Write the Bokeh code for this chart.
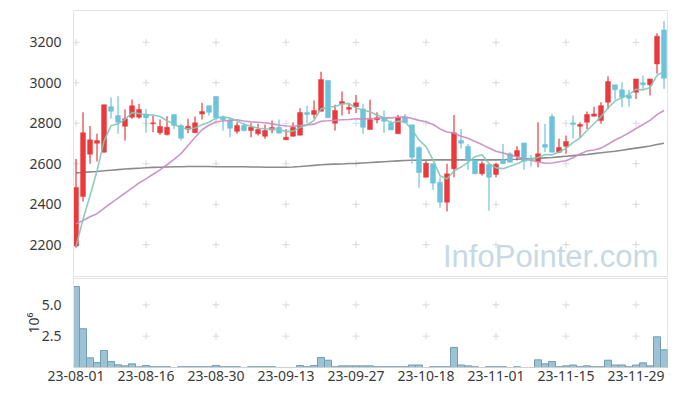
import pandas as pd
from bokeh.plotting import figure
from bokeh.layouts import column
from bokeh.models import ColumnDataSource, Range1d, FixedTicker, Label, NumeralTickFormatter
from bokeh.embed import file_html
from bokeh.resources import INLINE

# ---------------- data ----------------
tick_idx = [0, 10, 20, 30, 40, 50, 60, 70, 80]
tick_labels = ["23-08-01", "23-08-16", "23-08-30", "23-09-13", "23-09-27",
               "23-10-18", "23-11-01", "23-11-15", "23-11-29"]

opens = [2193, 2438, 2647, 2701, 2657, 2882, 2838, 2785, 2830, 2830,
         2846, 2797, 2753, 2744, 2843, 2789, 2770, 2753, 2846, 2887,
         2932, 2830, 2817, 2760, 2789, 2764, 2748, 2736, 2767, 2780,
         2718, 2736, 2741, 2853, 2843, 2859, 3011, 2800, 2896, 2869,
         2882, 2871, 2769, 2817, 2827, 2800, 2748, 2830, 2792, 2680,
         2533, 2600, 2509, 2410, 2575, 2715, 2685, 2619, 2550, 2596,
         2547, 2619, 2649, 2636, 2703, 2627, 2611, 2695, 2833, 2657,
         2686, 2802, 2785, 2805, 2835, 2813, 2904, 2990, 2965, 2937,
         2953, 3000, 2990, 3093, 3261]
highs = [2624, 2854, 2787, 2748, 2893, 2928, 2933, 2868, 2917, 2896,
         2871, 2838, 2818, 2835, 2843, 2797, 2822, 2833, 2901, 2887,
         2932, 2838, 2827, 2805, 2802, 2800, 2797, 2794, 2813, 2818,
         2772, 2805, 2874, 2886, 2912, 3055, 3011, 2892, 2957, 2896,
         2940, 2896, 2916, 2854, 2863, 2813, 2841, 2846, 2792, 2686,
         2612, 2600, 2533, 2600, 2841, 2772, 2698, 2619, 2611, 2600,
         2604, 2698, 2657, 2686, 2703, 2644, 2805, 2797, 2846, 2723,
         2739, 2838, 2805, 2858, 2882, 2904, 3032, 2990, 3002, 2965,
         3019, 3036, 3019, 3244, 3304]
lows = [2186, 2413, 2600, 2611, 2655, 2822, 2748, 2715, 2822, 2822,
        2753, 2756, 2743, 2739, 2772, 2715, 2751, 2753, 2818, 2838,
        2817, 2764, 2731, 2748, 2759, 2731, 2739, 2723, 2751, 2751,
        2718, 2734, 2741, 2800, 2822, 2859, 2827, 2764, 2838, 2846,
        2851, 2748, 2769, 2800, 2753, 2767, 2748, 2802, 2600, 2481,
        2533, 2471, 2382, 2364, 2533, 2674, 2570, 2550, 2542, 2369,
        2533, 2600, 2607, 2616, 2570, 2586, 2583, 2657, 2657, 2652,
        2649, 2726, 2731, 2772, 2835, 2797, 2871, 2916, 2879, 2882,
        2920, 2965, 2937, 3044, 2970]
closes = [2483, 2753, 2718, 2715, 2891, 2859, 2805, 2822, 2886, 2868,
          2827, 2802, 2784, 2780, 2789, 2726, 2785, 2802, 2858, 2854,
          2827, 2817, 2775, 2789, 2764, 2780, 2769, 2764, 2779, 2751,
          2731, 2780, 2853, 2843, 2863, 3016, 2827, 2863, 2907, 2878,
          2901, 2780, 2818, 2827, 2810, 2767, 2830, 2802, 2632, 2557,
          2602, 2504, 2410, 2550, 2753, 2701, 2619, 2550, 2600, 2533,
          2596, 2600, 2607, 2665, 2612, 2621, 2649, 2681, 2657, 2680,
          2710, 2794, 2794, 2843, 2846, 2887, 3006, 2965, 2928, 2923,
          3019, 2990, 3019, 3230, 3022]
volume_m = [6.46, 3.09, 0.77, 0.40, 1.36, 0.48, 0.21, 0.13, 0.29, 0.05,
            0.16, 0.06, 0.06, 0.06, 0.0, 0.06, 0.06, 0.06, 0.06, 0.06,
            0.16, 0.06, 0.06, 0.06, 0.0, 0.06, 0.06, 0.06, 0.06, 0.0,
            0.0, 0.0, 0.16, 0.06, 0.16, 0.80, 0.58, 0.06, 0.13, 0.13,
            0.13, 0.13, 0.13, 0.06, 0.06, 0.06, 0.06, 0.06, 0.20, 0.20,
            0.0, 0.06, 0.06, 0.06, 1.60, 0.20, 0.13, 0.06, 0.0, 0.06,
            0.06, 0.06, 0.0, 0.06, 0.0, 0.0, 0.61, 0.29, 0.48, 0.06,
            0.13, 0.20, 0.06, 0.13, 0.06, 0.06, 0.58, 0.20, 0.20, 0.06,
            0.20, 0.37, 0.13, 2.45, 1.41]
# moving-average values before a full window exists
ma5_head = [2191, 2326, 2442, 2565]
ma20_head = [2303, 2320, 2338, 2353, 2380, 2405, 2430, 2455, 2480, 2505,
             2525, 2548, 2570, 2595, 2622, 2650, 2690, 2730, 2768]
ma_long = [2555, 2557, 2560, 2562, 2565, 2568, 2571, 2574, 2576, 2578,
           2580, 2582, 2583, 2584, 2585, 2585, 2586, 2586, 2586, 2586,
           2585, 2585, 2585, 2585, 2585, 2584, 2584, 2583, 2583, 2583,
           2583, 2584, 2586, 2589, 2592, 2595, 2597, 2598, 2599, 2601,
           2602, 2604, 2606, 2608, 2610, 2612, 2614, 2616, 2617, 2618,
           2618, 2619, 2619, 2619, 2619, 2619, 2619, 2619, 2619, 2619,
           2619, 2620, 2621, 2622, 2624, 2625, 2627, 2629, 2631, 2634,
           2637, 2640, 2643, 2646, 2650, 2654, 2658, 2662, 2667, 2672,
           2677, 2682, 2688, 2695, 2701]
price_ticks = [2200, 2400, 2600, 2800, 3000, 3200]
vol_ticks = [2.5, 5.0]

# ---------------- derived ----------------
n = len(closes)
idx = list(range(n))
cl = pd.Series(closes, dtype=float)
ma5 = ma5_head + list(cl.rolling(5).mean().iloc[4:])
ma20 = ma20_head + list(cl.rolling(20).mean().iloc[19:])

RED = "#ea3a3c"
BLUE = "#6cc3da"
colors = [RED if c >= o else BLUE for o, c in zip(opens, closes)]
src = ColumnDataSource(dict(
    x=idx, o=opens, h=highs, l=lows, c=closes,
    top=[max(o, c) for o, c in zip(opens, closes)],
    bot=[min(o, c) for o, c in zip(opens, closes)],
    color=colors, vol=volume_m,
))

FONT = "Noto Sans"
LBL_COLOR = "#3a3a3a"
GRID = "#d9d9d9"
FRAME = "#e3e3e3"

xr = Range1d(-0.36, 84.5)

# ---------------- price chart ----------------
p = figure(width=672, height=277, x_range=xr, y_range=Range1d(2038, 3357),
           output_backend="svg", toolbar_location=None,
           min_border_left=73, min_border_right=5, min_border_top=10, min_border_bottom=0)
p.xaxis.visible = False
p.grid.visible = False
p.outline_line_color = FRAME
p.background_fill_color = "white"
p.yaxis.ticker = FixedTicker(ticks=price_ticks)
p.yaxis.major_tick_line_color = None
p.yaxis.minor_tick_line_color = None
p.yaxis.axis_line_color = FRAME
p.yaxis.major_label_text_font = FONT
p.yaxis.major_label_text_font_size = "14px"
p.yaxis.major_label_text_color = LBL_COLOR
p.yaxis.major_label_standoff = 6

gx = [x for x in tick_idx for _ in price_ticks]
gy = [y for _ in tick_idx for y in price_ticks]
p.scatter(gx, gy, marker="cross", size=7, line_color=GRID, line_width=1)

wm = Label(x=83.2, y=2142, text="InfoPointer.com", text_align="right",
           text_baseline="alphabetic", text_font="Liberation Sans",
           text_font_size="31px", text_color="#c6d9e4")
p.add_layout(wm)

p.line(idx, ma_long, line_color="#8c8c8c", line_width=1.6)
p.segment(x0="x", y0="h", x1="x", y1="l", line_color="color", line_width=1.2, source=src)
p.vbar(x="x", top="top", bottom="bot", width=0.7, fill_color="color",
       line_color="color", line_width=0.5, source=src)
p.line(idx, ma20, line_color="#c98ac3", line_width=1.6, line_alpha=0.9)
p.line(idx, ma5, line_color="#82c7bc", line_width=1.6, line_alpha=0.9)

# ---------------- volume chart ----------------
v = figure(width=672, height=110, x_range=xr, y_range=Range1d(0, 7.1),
           output_backend="svg", toolbar_location=None,
           min_border_left=73, min_border_right=5, min_border_top=1, min_border_bottom=20)
v.grid.visible = False
v.outline_line_color = FRAME
vx = [x for x in tick_idx for _ in vol_ticks]
vy = [y for _ in tick_idx for y in vol_ticks]
v.scatter(vx, vy, marker="cross", size=7, line_color=GRID, line_width=1)
v.vbar(x="x", top="vol", width=1.0, fill_color="#9cc2d3", line_color="#6e9fb5",
       line_width=1, source=src)

v.yaxis.ticker = FixedTicker(ticks=vol_ticks)
v.yaxis.formatter = NumeralTickFormatter(format="0.0")
v.yaxis.axis_label = "10\u2076"
v.yaxis.axis_label_text_font = FONT
v.yaxis.axis_label_text_font_style = "normal"
v.yaxis.axis_label_text_font_size = "14px"
v.yaxis.axis_label_text_color = LBL_COLOR
v.yaxis.axis_label_standoff = -4
v.yaxis.major_tick_line_color = None
v.yaxis.minor_tick_line_color = None
v.yaxis.axis_line_color = FRAME
v.yaxis.major_label_text_font = FONT
v.yaxis.major_label_text_font_size = "14px"
v.yaxis.major_label_text_color = LBL_COLOR
v.yaxis.major_label_standoff = 6

v.xaxis.ticker = FixedTicker(ticks=tick_idx)
v.xaxis.major_label_overrides = {i: t for i, t in zip(tick_idx, tick_labels)}
v.xaxis.major_tick_line_color = None
v.xaxis.minor_tick_line_color = None
v.xaxis.major_tick_out = 0
v.xaxis.axis_line_color = "#d0d0d0"
v.xaxis.major_label_text_font = FONT
v.xaxis.major_label_text_font_size = "14px"
v.xaxis.major_label_text_color = LBL_COLOR
v.xaxis.major_label_standoff = 3

layout = column(p, v)
open("out.html", "w").write(file_html(layout, INLINE))
